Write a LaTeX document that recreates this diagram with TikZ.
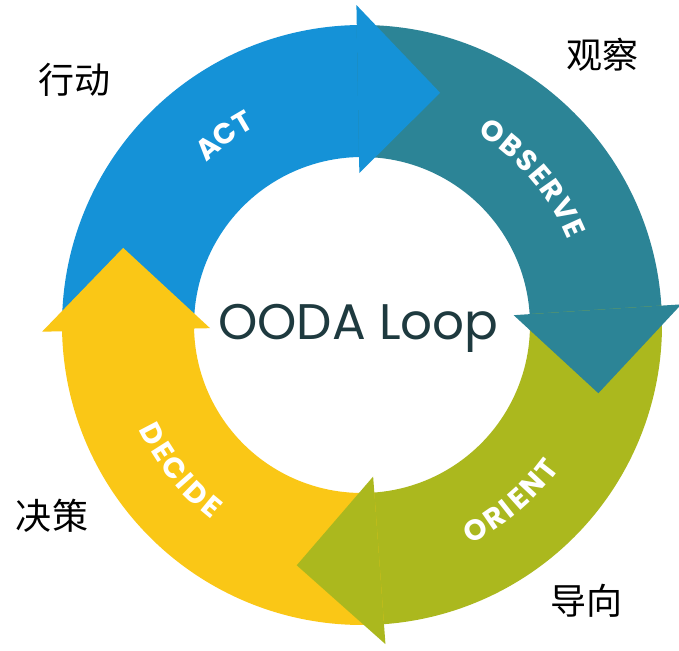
\documentclass[tikz,border=0pt]{standalone}
\usepackage{fontspec}
\newfontfamily\cjk{Noto Sans CJK SC}
\newfontfamily\labfont{Poppins}
\usetikzlibrary{calc}
\definecolor{actblue}{HTML}{1592D7}
\definecolor{obsteal}{HTML}{2C8496}
\definecolor{oriolive}{HTML}{ABB81E}
\definecolor{decyellow}{HTML}{FAC716}
\definecolor{titletext}{HTML}{1E3A3F}
\def\Rout{300}
\def\Rin{168}
\def\Bout{320}
\def\Bin{152}
% ring sector: colour, start angle, end angle (clockwise)
\newcommand\ringsector[3]{%
  \fill[#1] ($(C)+(#2:\Rout)$) arc[start angle=#2,end angle=#3,radius=\Rout pt]
    -- ($(C)+(#3:\Rin)$) arc[start angle=#3,end angle=#2,radius=\Rin pt] -- cycle;}
% arrow head: colour, base angle, tip angle, tip radius
\newcommand\ringhead[4]{%
  \fill[#1] ($(C)+(#2:\Bout)$) -- ($(C)+(#3:#4)$) -- ($(C)+(#2:\Bin)$) -- cycle;}
\begin{document}
\begin{tikzpicture}[x=1pt,y=1pt,
  lab/.style={font=\labfont\bfseries\fontsize{29}{29}\selectfont, text=white, inner sep=0pt},
  cjklab/.style={font=\cjk\fontsize{36}{36}\selectfont, text=black, inner sep=0pt},
  titlelab/.style={font=\labfont\fontsize{50}{50}\selectfont, text=titletext, inner sep=0pt}]
\useasboundingbox (0,0) rectangle (679,650);
\clip (0,0) rectangle (679,650);
\fill[white] (0,0) rectangle (679,650);
\coordinate (C) at (362,325);
% bodies
\ringsector{actblue}{181.2}{90}
\ringsector{obsteal}{91}{2.7}
\ringsector{oriolive}{3.7}{-86.8}
\ringsector{decyellow}{-85.8}{-179.8}
% heads
\ringhead{actblue}{91}{71.4}{245}
\ringhead{obsteal}{3.7}{-16.1}{246}
\ringhead{oriolive}{-85.8}{-105.2}{249}
\ringhead{decyellow}{181.2}{162.1}{251}
% curved labels
\foreach \ch/\ang [count=\i] in {A/131,C/125.7,T/120.4}
  \node[lab, rotate=\ang-90] (act\i) at ($(C)+(\ang:235)$) {\ch};
\foreach \ch/\ang [count=\i] in {O/56,B/50.14,S/44.98,E/40.19,R/35.21,V/29.68,E/24.48}
  \node[lab, rotate=\ang-90] (obs\i) at ($(C)+(\ang:233)$) {\ch};
\foreach \ch/\ang [count=\i] in {O/-61,R/-55.5,I/-51.7,E/-48.1,N/-43.1,T/-38.05}
  \node[lab, rotate=\ang+90] (ori\i) at ($(C)+(\ang:234)$) {\ch};
\foreach \ch/\ang [count=\i] in {D/207.6,E/212.5,C/217.3,I/221.4,D/225.5,E/230.4}
  \node[lab, rotate=\ang+90] (dec\i) at ($(C)+(\ang:236)$) {\ch};
% title
\node[titlelab, anchor=base] (title) at (358.5,310) {OODA Loop};
% Chinese labels
\node[cjklab] (xingdong) at (74,570) {行动};
\node[cjklab] (guancha) at (602,595) {观察};
\node[cjklab] (juece) at (52,134) {决策};
\node[cjklab] (daoxiang) at (586,49) {导向};
\end{tikzpicture}
\end{document}
